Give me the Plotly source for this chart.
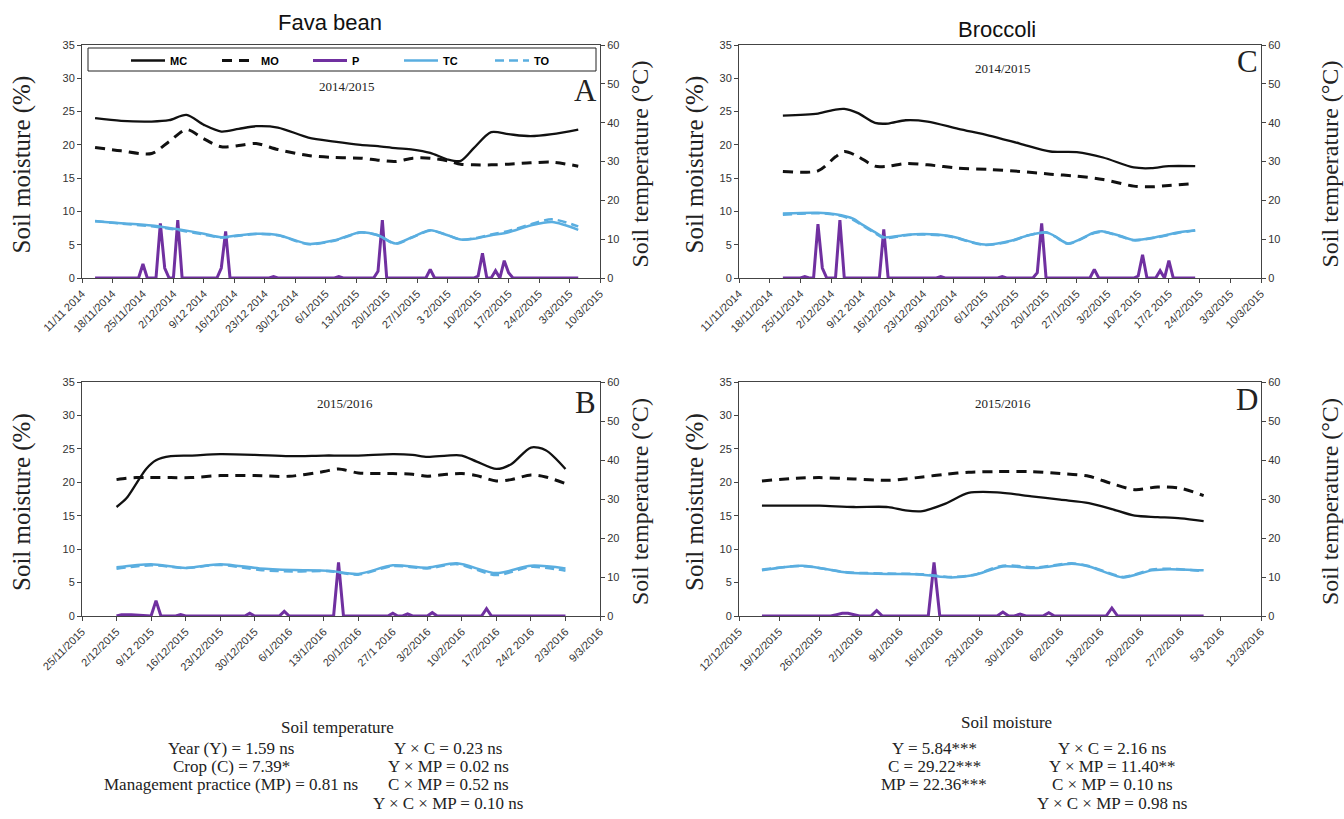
import pandas as pd
import plotly.graph_objects as go

W, H = 1344, 819

# ---------------- DATA ----------------
# Panel A: Fava bean 2014/2015 (days after start date)
A_start = "2014-11-11"
A_days = [3, 9, 16, 20, 24, 28, 32, 36, 40, 45, 52, 58, 64, 68, 72, 76, 80, 84, 87, 90, 94, 98, 103, 108, 114]
A_MC = [24.0, 23.6, 23.5, 23.7, 24.5, 23.0, 22.0, 22.4, 22.8, 22.6, 21.1, 20.5, 20.0, 19.8, 19.5, 19.3, 18.8, 17.8, 17.6, 19.5, 21.9, 21.6, 21.3, 21.6, 22.3]
A_MO = [19.6, 19.1, 18.7, 20.5, 22.3, 20.9, 19.7, 19.9, 20.2, 19.3, 18.4, 18.1, 18.0, 17.7, 17.5, 18.0, 18.0, 17.6, 17.1, 17.0, 17.0, 17.1, 17.3, 17.4, 16.8]
A_TC = [14.6, 14.1, 13.5, 12.9, 12.2, 11.4, 10.5, 11.0, 11.4, 11.1, 8.8, 9.7, 11.8, 11.0, 8.9, 10.6, 12.3, 11.0, 9.9, 10.1, 11.0, 11.8, 13.5, 14.4, 12.4]
A_TO = [14.7, 14.0, 13.3, 12.7, 12.0, 11.2, 10.4, 10.9, 11.3, 11.0, 8.7, 9.6, 11.7, 11.0, 8.8, 10.5, 12.2, 11.0, 9.9, 10.2, 11.2, 12.1, 13.8, 15.1, 13.3]
A_P_days = [3, 13, 14, 15, 17, 18, 19, 20, 21, 22, 23, 31, 32, 33, 34, 43, 44, 45, 58, 59, 60, 67, 68, 69, 70, 79, 80, 81, 90, 91, 92, 93, 94, 95, 96, 97, 98, 99, 114]
A_P = [0, 0, 2.1, 0, 0, 8.2, 1.5, 0, 0, 8.7, 0, 0, 1.5, 7.0, 0, 0, 0.2, 0, 0, 0.2, 0, 0, 1.0, 8.7, 0, 0, 1.3, 0, 0, 0.3, 3.7, 0, 0, 1.1, 0, 2.6, 0.8, 0, 0]
A_ticks = ["11/11 2014", "18/11/2014", "25/11/2014", "2/12/2014", "9/12 2014", "16/12/2014",
           "23/12 2014", "30/12 2014", "6/1/2015", "13/1/2015", "20/1/2015", "27/1/2015",
           "3 2/2015", "10/2/2015", "17/2/2015", "24/2/2015", "3/3/2015", "10/3/2015"]

# Panel C: Broccoli 2014/2015
C_start = "2014-11-11"
C_days = [10, 18, 22, 24, 27, 31, 34, 38, 43, 50, 57, 64, 71, 77, 83, 90, 94, 98, 104]
C_MC = [24.4, 24.7, 25.3, 25.4, 24.8, 23.3, 23.2, 23.7, 23.5, 22.4, 21.4, 20.2, 19.0, 18.9, 18.1, 16.6, 16.5, 16.8, 16.8]
C_MO = [16.0, 16.1, 18.2, 19.0, 18.3, 16.8, 16.8, 17.2, 17.0, 16.5, 16.3, 16.0, 15.6, 15.3, 14.8, 13.8, 13.7, 13.9, 14.2]
C_T_days = [10, 18, 22, 26, 28, 31, 33, 38, 42, 48, 56, 62, 66, 70, 72, 75, 81, 83, 87, 90, 95, 100, 104]
C_TC = [16.6, 16.8, 16.4, 15.3, 13.8, 11.8, 10.5, 11.1, 11.3, 10.8, 8.6, 9.6, 11.0, 11.8, 10.8, 8.9, 11.7, 12.0, 10.8, 9.8, 10.5, 11.7, 12.3]
C_TO = [16.3, 16.7, 16.3, 15.0, 13.6, 11.6, 10.3, 11.0, 11.2, 10.7, 8.5, 9.5, 11.0, 11.7, 10.7, 8.8, 11.6, 11.9, 10.7, 9.7, 10.4, 11.6, 12.2]
C_P_days = [10, 14, 15, 16, 17, 18, 19, 20, 22, 23, 24, 32, 33, 34, 45, 46, 47, 59, 60, 61, 67, 68, 69, 70, 80, 81, 82, 90, 91, 92, 93, 94, 95, 96, 97, 98, 99, 104]
C_P = [0, 0, 0.2, 0, 0, 8.1, 1.5, 0, 0, 8.7, 0, 0, 7.3, 0, 0, 0.2, 0, 0, 0.2, 0, 0, 0.8, 8.2, 0, 0, 1.3, 0, 0, 0.3, 3.5, 0, 0, 0, 1.1, 0, 2.6, 0, 0]
C_ticks = ["11/11/2014", "18/11/2014", "25/11/2014", "2/12/2014", "9/12 2014", "16/12/2014",
           "23/12/2014", "30/12/2014", "6/1/2015", "13/1/2015", "20/1/2015", "27/1/2015",
           "3/2/2015", "10/2 2015", "17/2 2015", "24/2/2015", "3/3/2015", "10/3/2015"]

# Panel B: Fava bean 2015/2016
B_start = "2015-11-25"
B_days = [7, 9, 11, 13, 15, 18, 22, 28, 35, 42, 49, 52, 56, 63, 67, 70, 74, 77, 80, 84, 87, 91, 94, 98]
B_MC = [16.3, 17.6, 19.8, 22.0, 23.3, 23.9, 24.0, 24.2, 24.1, 23.9, 24.0, 24.0, 24.0, 24.2, 24.1, 23.8, 24.0, 24.0, 23.1, 22.0, 22.7, 25.2, 24.8, 22.0]
B_MO = [20.4, 20.6, 20.7, 20.7, 20.7, 20.7, 20.7, 21.0, 21.0, 20.9, 21.6, 22.0, 21.4, 21.3, 21.2, 20.9, 21.2, 21.3, 21.0, 20.2, 20.4, 21.1, 20.8, 19.8]
B_T_days = [7, 14, 21, 28, 36, 43, 50, 56, 63, 70, 76, 84, 91, 98]
B_TC = [12.5, 13.3, 12.3, 13.3, 12.2, 11.8, 11.6, 10.8, 13.0, 12.4, 13.5, 11.0, 12.9, 12.2]
B_TO = [12.1, 13.0, 12.3, 13.1, 11.8, 11.4, 11.5, 10.6, 12.8, 12.2, 13.3, 10.5, 12.6, 11.6]
B_P_days = [7, 8, 10, 12, 14, 15, 16, 19, 20, 21, 33, 34, 35, 40, 41, 42, 51, 52, 53, 62, 63, 64, 65, 66, 67, 70, 71, 72, 81, 82, 83, 98]
B_P = [0, 0.2, 0.2, 0.1, 0, 2.3, 0, 0, 0.2, 0, 0, 0.4, 0, 0, 0.7, 0, 0, 8.0, 0, 0, 0.4, 0, 0, 0.3, 0, 0, 0.5, 0, 0, 1.1, 0, 0]
B_ticks = ["25/11/2015", "2/12/2015", "9/12 2015", "16/12/2015", "23/12/2015", "30/12/2015",
           "6/1/2016", "13/1/2016", "20/1/2016", "27/1 2016", "3/2/2016", "10/2/2016",
           "17/2/2016", "24/2 2016", "2/3/2016", "9/3/2016"]

# Panel D: Broccoli 2015/2016
D_start = "2015-12-12"
D_days = [4, 10, 14, 20, 26, 29, 32, 36, 40, 45, 51, 56, 61, 65, 69, 73, 77, 81]
D_MC = [16.5, 16.5, 16.5, 16.3, 16.3, 15.8, 15.7, 16.8, 18.4, 18.5, 17.9, 17.4, 16.9, 16.0, 15.0, 14.8, 14.6, 14.2]
D_MO = [20.2, 20.6, 20.7, 20.5, 20.3, 20.5, 20.8, 21.2, 21.5, 21.6, 21.6, 21.3, 20.9, 19.8, 18.9, 19.3, 19.1, 18.0]
D_T_days = [4, 11, 19, 26, 32, 37, 41, 46, 52, 58, 61, 65, 67, 72, 75, 81]
D_TC = [11.7, 12.9, 11.1, 10.8, 10.6, 9.9, 10.5, 12.7, 12.3, 13.4, 12.7, 10.6, 9.9, 11.7, 12.0, 11.7]
D_TO = [11.9, 12.8, 11.2, 10.9, 10.7, 10.0, 10.6, 12.9, 12.5, 13.5, 12.8, 10.8, 10.0, 11.9, 12.1, 11.5]
D_P_days = [4, 16, 17, 18, 19, 20, 21, 23, 24, 25, 33, 34, 35, 45, 46, 47, 48, 49, 50, 53, 54, 55, 64, 65, 66, 81]
D_P = [0, 0, 0.2, 0.4, 0.4, 0.2, 0, 0, 0.8, 0, 0, 8.0, 0, 0, 0.6, 0, 0, 0.3, 0, 0, 0.5, 0, 0, 1.2, 0, 0]
D_ticks = ["12/12/2015", "19/12/2015", "26/12/2015", "2/1/2016", "9/1/2016", "16/1/2016",
           "23/1/2016", "30/1/2016", "6/2/2016", "13/2/2016", "20/2/2016", "27/2/2016",
           "5/3 2016", "12/3/2016"]

series_names = ["MC", "MO", "P", "TC", "TO"]
stats_temp_left = ["Year (Y) = 1.59 ns", "Crop (C) = 7.39*", "Management practice (MP) = 0.81 ns"]
stats_temp_right = ["Y × C = 0.23 ns", "Y × MP = 0.02 ns", "C × MP = 0.52 ns", "Y × C × MP = 0.10 ns"]
stats_moist_left = ["Y = 5.84***", "C = 29.22***", "MP = 22.36***"]
stats_moist_right = ["Y × C = 2.16 ns", "Y × MP = 11.40**", "C × MP = 0.10 ns", "Y × C × MP = 0.98 ns"]

# ---------------- STYLE ----------------
BLACK = "#111111"
PURPLE = "#7030a0"
BLUE = "#5aaee0"
SERIF = "Liberation Serif"
SANS = "Liberation Sans"


def pxx(x):
    return x / W


def pyy(y):
    return 1 - y / H


def to_dates(start, days):
    return pd.Timestamp(start) + pd.to_timedelta(days, unit="D")


def note(text, x, y, size, family=SERIF, color="#222", angle=0):
    return dict(text=text, x=pxx(x), y=pyy(y), xref="paper", yref="paper", showarrow=False,
                xanchor="center", yanchor="middle", textangle=angle,
                font=dict(family=family, size=size, color=color))


panels = [
    dict(start=A_start, days=A_days, MC=A_MC, MO=A_MO, tdays=A_days, TC=A_TC, TO=A_TO,
         pdays=A_P_days, P=A_P, ticks=A_ticks, box=(82, 600, 45, 278), year="2014/2015",
         letter="A", yearpos=(347, 87), letpos=(585, 90)),
    dict(start=C_start, days=C_days, MC=C_MC, MO=C_MO, tdays=C_T_days, TC=C_TC, TO=C_TO,
         pdays=C_P_days, P=C_P, ticks=C_ticks, box=(739, 1261, 45, 278), year="2014/2015",
         letter="C", yearpos=(1003, 68), letpos=(1247, 62)),
    dict(start=B_start, days=B_days, MC=B_MC, MO=B_MO, tdays=B_T_days, TC=B_TC, TO=B_TO,
         pdays=B_P_days, P=B_P, ticks=B_ticks, box=(82, 600, 382, 616), year="2015/2016",
         letter="B", yearpos=(345, 403), letpos=(585, 402)),
    dict(start=D_start, days=D_days, MC=D_MC, MO=D_MO, tdays=D_T_days, TC=D_TC, TO=D_TO,
         pdays=D_P_days, P=D_P, ticks=D_ticks, box=(739, 1261, 382, 616), year="2015/2016",
         letter="D", yearpos=(1003, 403), letpos=(1247, 399)),
]

fig = go.Figure()
layout = dict(
    width=W, height=H, autosize=False, margin=dict(l=0, r=0, t=0, b=0, pad=0, autoexpand=False),
    paper_bgcolor="white", plot_bgcolor="white",
    showlegend=True,
    legend=dict(orientation="h", x=pxx(126), y=pyy(46), xanchor="left", yanchor="top",
                font=dict(family=SANS, size=11, color="black", weight="bold"),
                bgcolor="rgba(0,0,0,0)", borderwidth=0, entrywidth=42, entrywidthmode="pixels",
                traceorder="normal", itemwidth=34),
)
annotations = []
shapes = []

tickfont = dict(family=SANS, size=11, color="#333333")

for i, p in enumerate(panels):
    n = i + 1
    xid = "x" if n == 1 else f"x{n}"
    yl = "y" if n == 1 else f"y{2 * n - 1}"
    yr = f"y{2 * n}"
    x0, x1, y0, y1 = p["box"]
    first = (i == 0)
    d = to_dates(p["start"], p["days"])
    td = to_dates(p["start"], p["tdays"])
    pdd = to_dates(p["start"], p["pdays"])

    fig.add_trace(go.Scatter(x=d, y=p["MC"], name=series_names[0], mode="lines",
                             line=dict(color=BLACK, width=2.3, shape="spline", smoothing=0.8),
                             xaxis=xid, yaxis=yl, showlegend=first, legendrank=1))
    fig.add_trace(go.Scatter(x=d, y=p["MO"], name=series_names[1], mode="lines",
                             line=dict(color=BLACK, width=3, dash="10px,7px", shape="spline", smoothing=0.8),
                             xaxis=xid, yaxis=yl, showlegend=first, legendrank=2))
    fig.add_trace(go.Scatter(x=pdd, y=p["P"], name=series_names[2], mode="lines",
                             line=dict(color=PURPLE, width=3),
                             xaxis=xid, yaxis=yl, showlegend=first, legendrank=3))
    fig.add_trace(go.Scatter(x=td, y=p["TC"], name=series_names[3], mode="lines",
                             line=dict(color=BLUE, width=2.5, shape="spline", smoothing=0.8),
                             xaxis=xid, yaxis=yr, showlegend=first, legendrank=4))
    fig.add_trace(go.Scatter(x=td, y=p["TO"], name=series_names[4], mode="lines",
                             line=dict(color=BLUE, width=2.5, dash="9px,5px", shape="spline", smoothing=0.8),
                             xaxis=xid, yaxis=yr, showlegend=first, legendrank=5))

    tickvals = pd.date_range(p["start"], periods=len(p["ticks"]), freq="7D")
    xkey = "xaxis" if n == 1 else f"xaxis{n}"
    ylkey = "yaxis" if n == 1 else f"yaxis{2 * n - 1}"
    yrkey = f"yaxis{2 * n}"
    layout[xkey] = dict(
        domain=[pxx(x0), pxx(x1)], anchor=yl, type="date", automargin=False,
        range=[tickvals[0], tickvals[-1]],
        tickmode="array", tickvals=list(tickvals), ticktext=p["ticks"],
        tickangle=-45, tickfont=tickfont, ticks="outside", ticklen=4, tickcolor="#444",
        showline=True, linecolor="#444", linewidth=1, mirror=True,
        showgrid=False, zeroline=False,
    )
    layout[ylkey] = dict(
        domain=[pyy(y1), pyy(y0)], anchor=xid, range=[0, 35], dtick=5, automargin=False,
        tickfont=tickfont, ticks="outside", ticklen=4, tickcolor="#444",
        showline=True, linecolor="#444", linewidth=1,
        showgrid=False, zeroline=False,
    )
    layout[yrkey] = dict(
        overlaying=yl, anchor=xid, side="right", range=[0, 60], dtick=10, automargin=False,
        tickfont=tickfont, ticks="outside", ticklen=4, tickcolor="#444",
        showline=True, linecolor="#444", linewidth=1,
        showgrid=False, zeroline=False,
    )

    annotations.append(note(p["year"], p["yearpos"][0], p["yearpos"][1], 13))
    annotations.append(note(p["letter"], p["letpos"][0], p["letpos"][1], 31))
    lx = 22 if x0 < 300 else 695
    rx = 640 if x0 < 300 else 1330
    yc = (y0 + y1) / 2 + 3
    annotations.append(note("Soil moisture (%)", lx, yc, 25, angle=-90))
    annotations.append(note("Soil temperature (°C)", rx, yc, 24, angle=-90))

# crop titles
annotations.append(note("Fava bean", 330, 22, 22, family=SANS, color="#111"))
annotations.append(note("Broccoli", 997, 30, 22, family=SANS, color="#111"))

# legend box
shapes.append(dict(type="rect", xref="paper", yref="paper", x0=pxx(88), x1=pxx(596),
                   y0=pyy(71), y1=pyy(48), line=dict(color="#222", width=1)))

# statistics text
annotations.append(note("Soil temperature", 337, 727, 17))
annotations.append(note("Soil moisture", 1007, 722, 17))
rows = [748, 766, 784, 803]
for k, t in enumerate(stats_temp_left):
    annotations.append(note(t, 231, rows[k], 17))
for k, t in enumerate(stats_temp_right):
    annotations.append(note(t, 448, rows[k], 17))
for k, t in enumerate(stats_moist_left):
    annotations.append(note(t, 934, rows[k], 17))
for k, t in enumerate(stats_moist_right):
    annotations.append(note(t, 1112, rows[k], 17))

layout["annotations"] = annotations
layout["shapes"] = shapes
fig.update_layout(**layout)
fig.write_html("out.html")
